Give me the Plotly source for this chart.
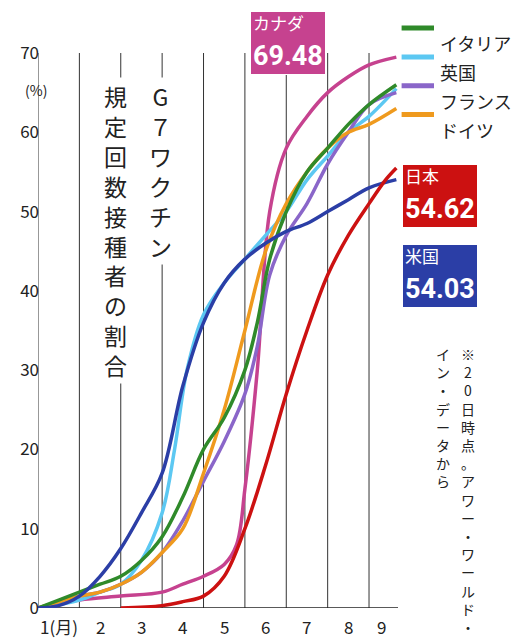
import plotly.graph_objects as go

usa_x = [1.0,1.5,2,2.5,3,3.5,4,4.5,5,5.5,6,6.5,7,7.5,8,8.5,9,9.66]
usa_y = [0,0.3,1.5,4,7.5,12,17,28,36,41,44,46,47.5,48.5,50,51.5,53,54.03]
uk_x = [1,2,2.5,3,3.5,4,4.3,4.6,5,5.5,6,6.5,7,7.5,8,8.5,9,9.66]
uk_y = [0,1,2,3,6,12,20,30,37,41,44,47,50,54,57,60,62,65.5]
it_x = [1,1.5,2,2.5,3,3.5,4,4.5,5,5.5,6,6.3,6.6,7,7.5,8,8.5,9,9.66]
it_y = [0,1,2,3,4,6,9,14,20,24,30,36,44,50,55,58,61,63.5,66]
fr_x = [1,2,2.5,3,3.5,4,4.5,5,5.5,6,6.3,6.6,7,7.5,8,8.5,9,9.66]
fr_y = [0,1.5,2,3,4.5,7,11,16,21,27,33,42,47,51,56,60,63.5,65]
de_x = [1,2,2.5,3,3.5,4,4.5,5,5.5,6,6.5,7,7.5,8,8.5,9,9.66]
de_y = [0,1.5,2,3,4.5,7,10,17,25,35,45,51,55,58,60,61,63]
ca_x = [1,2,3,4,4.5,5,5.5,5.8,6,6.3,6.6,7,7.5,8,8.5,9,9.66]
ca_y = [0,1,1.5,2,3,4,5.5,8,15,30,50,58,62,65,67,68.5,69.48]
jp_x = [3.0,4,4.5,5,5.5,6,6.5,7,7.5,8,8.5,9,9.4,9.66]
jp_y = [0,0.3,0.8,1.5,4,10,18,27,35,42,47,51,54,55.5]

series = [("カナダ",ca_x,ca_y,"#c6428f"),("英国",uk_x,uk_y,"#5cc8f2"),
          ("フランス",fr_x,fr_y,"#8a66c9"),("ドイツ",de_x,de_y,"#ef9a1e"),
          ("イタリア",it_x,it_y,"#2f8a2a"),("米国",usa_x,usa_y,"#2b3ea6"),
          ("日本",jp_x,jp_y,"#cc1111")]
months = ["1(月)","2","3","4","5","6","7","8","9"]
yticks = [0,10,20,30,40,50,60,70]

F = "Noto Sans CJK JP"
fig = go.Figure()
for name,x,y,c in series:
    fig.add_trace(go.Scatter(x=x,y=y,mode="lines",line=dict(color=c,width=3.5,shape="spline"),showlegend=False))

for i in range(1,10):
    fig.add_shape(type="line",x0=i,x1=i,y0=0,y1=70,line=dict(color="#333",width=1),layer="below")
fig.add_shape(type="line",x0=1,x1=9.7,y0=0,y1=0,line=dict(color="#222",width=1.5),layer="below")

for i,m in enumerate(months):
    fig.add_annotation(x=(i+1.5 if i<8 else 9.3),y=0,yshift=-18,text=m,showarrow=False,
                       font=dict(size=17,family=F,color="#222"))
fig.add_annotation(xref="paper",yref="paper",x=-0.005,y=0.955,text="(%)",showarrow=False,
                   font=dict(size=14,family=F,color="#222"),xanchor="center")

def vert(s): return "<br>".join(s)
fig.add_annotation(x=3.95,y=67,text=vert("G７ワクチン"),showarrow=False,yanchor="top",
                   font=dict(size=23,family=F,color="#222"),bgcolor="white")
fig.add_annotation(x=2.87,y=67,text=vert("規定回数接種者の割合"),showarrow=False,yanchor="top",
                   font=dict(size=23,family=F,color="#222"),bgcolor="white")
fig.add_annotation(xref="paper",yref="paper",x=1.22,y=0.48,text=vert("※20日時点。アワー・ワールド・"),showarrow=False,
                   yanchor="top",font=dict(size=14,family=F,color="#222"))
fig.add_annotation(xref="paper",yref="paper",x=1.15,y=0.48,text=vert("イン・データから"),showarrow=False,
                   yanchor="top",font=dict(size=14,family=F,color="#222"))

leg = [("イタリア","#2f8a2a"),("英国","#5cc8f2"),("フランス","#8a66c9"),("ドイツ","#ef9a1e")]
for i,(n,c) in enumerate(leg):
    yp = 1.045 - i*0.052
    fig.add_shape(type="line",xref="paper",yref="paper",x0=1.01,x1=1.10,y0=yp,y1=yp,line=dict(color=c,width=5))
    fig.add_annotation(xref="paper",yref="paper",x=1.11,y=yp,text=n,showarrow=False,xanchor="left",
                       font=dict(size=18,family=F,color="#222"))

def box(xp,yp,t1,t2,c):
    fig.add_annotation(xref="paper",yref="paper",x=xp,y=yp,yanchor="top",
                       text=f"<span style='font-size:17px'>{t1}</span><br><b>{t2}</b>",
                       showarrow=False,bgcolor=c,font=dict(size=27,family="Roboto, "+F,color="white"),
                       borderpad=2,align="left",xanchor="left",bordercolor="white",borderwidth=1)
box(0.59,1.075,"カナダ","69.48","#c6428f")
box(1.01,0.80,"日本","54.62","#cc1111")
box(1.01,0.655,"米国","54.03","#2b3ea6")

fig.update_layout(width=528,height=640,margin=dict(l=27,r=138,t=45,b=40),
                  plot_bgcolor="white",paper_bgcolor="white",
                  xaxis=dict(range=[1,9.7],showgrid=False,showticklabels=False,zeroline=False),
                  yaxis=dict(range=[0,70],tickvals=yticks,showgrid=False,zeroline=False,
                             tickfont=dict(size=17,family=F,color="#222"),ticklabelstandoff=-2))
fig.write_html("out.html")
